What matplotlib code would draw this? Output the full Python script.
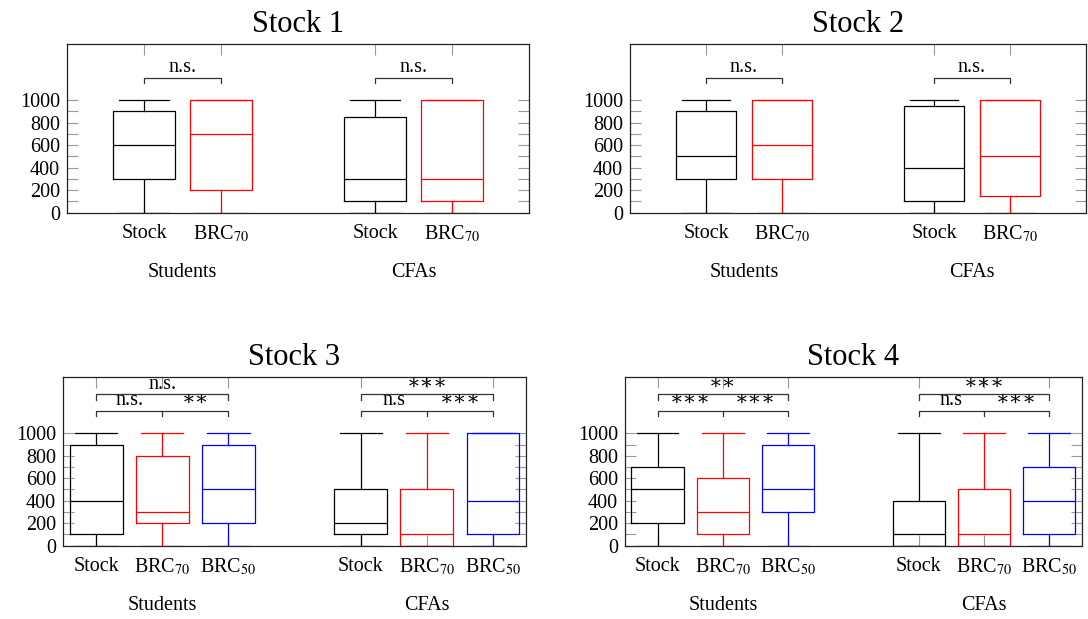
import matplotlib
matplotlib.use('Agg')
import matplotlib.pyplot as plt

plt.rcParams['font.family'] = ['Liberation Serif', 'DejaVu Serif']
plt.rcParams['mathtext.fontset'] = 'stix'

# each box: (whislo, q1, median, q3, whishi)
stock1_students = [(0, 300, 600, 900, 1000), (0, 200, 700, 1000, 1000)]
stock1_cfas = [(0, 100, 300, 850, 1000), (0, 100, 300, 1000, 1000)]
stock2_students = [(0, 300, 500, 900, 1000), (0, 300, 600, 1000, 1000)]
stock2_cfas = [(0, 100, 400, 950, 1000), (0, 150, 500, 1000, 1000)]
stock3_students = [(0, 100, 400, 900, 1000), (0, 200, 300, 800, 1000), (0, 200, 500, 900, 1000)]
stock3_cfas = [(0, 100, 200, 500, 1000), (0, 0, 100, 500, 1000), (0, 100, 400, 1000, 1000)]
stock4_students = [(0, 200, 500, 700, 1000), (0, 100, 300, 600, 1000), (0, 300, 500, 900, 1000)]
stock4_cfas = [(0, 0, 100, 400, 1000), (0, 0, 100, 500, 1000), (0, 100, 400, 700, 1000)]

labels2 = ['Stock', 'BRC$_{70}$']
labels3 = ['Stock', 'BRC$_{70}$', 'BRC$_{50}$']
groups = ['Students', 'CFAs']
titles = ['Stock 1', 'Stock 2', 'Stock 3', 'Stock 4']

# significance: 2 boxes -> [a-b]; 3 boxes -> [a-b, b-c, a-c]
sig1 = [['n.s.'], ['n.s.']]
sig2 = [['n.s.'], ['n.s.']]
sig3 = [['n.s.', '∗∗', 'n.s.'], ['n.s', '∗∗∗', '∗∗∗']]
sig4 = [['∗∗∗', '∗∗∗', '∗∗'], ['n.s', '∗∗∗', '∗∗∗']]

box_colors = ['black', 'red', 'blue']
keys = ['whislo', 'q1', 'med', 'q3', 'whishi']
FS = 14.5
TICKC = '#999999'
BRC = '#333333'


def draw_panel(ax, title, data, labels, sig, xlim):
    n = len(labels)
    ticks, ticklabels = [], []
    for g, group in enumerate(data):
        start = 1 + g * (n + 1)
        for i, s in enumerate(group):
            p = start + i
            st = dict(zip(keys, s))
            c = box_colors[i]
            ax.bxp([st], positions=[p], widths=0.8, capwidths=0.64, showfliers=False,
                   boxprops=dict(color=c, lw=0.9), whiskerprops=dict(color=c, lw=0.9),
                   capprops=dict(color=c, lw=0.9), medianprops=dict(color=c, lw=0.9),
                   manage_ticks=False)
            ticks.append(p)
            ticklabels.append(labels[i])
        mid = start + (n - 1) / 2
        ax.annotate(groups[g], xy=(mid, 0), xycoords=('data', 'axes fraction'),
                    xytext=(0, -46), textcoords='offset points',
                    ha='center', va='baseline', fontsize=FS)
        # brackets
        a, b = start, start + 1
        kw = dict(color=BRC, lw=0.9, clip_on=False)
        if n == 2:
            ax.plot([a, a, b, b], [1150, 1200, 1200, 1150], **kw)
            ax.text((a + b) / 2, 1255, sig[g][0], ha='center', va='baseline', fontsize=FS)
        else:
            c3 = start + 2
            ax.plot([a, a, c3, c3], [1150, 1200, 1200, 1150], **kw)
            ax.plot([b, b], [1150, 1200], **kw)
            ax.plot([a, a, c3, c3], [1300, 1350, 1350, 1300], **kw)
            ax.text((a + b) / 2, 1248, sig[g][0], ha='center', va='baseline', fontsize=FS)
            ax.text((b + c3) / 2, 1248, sig[g][1], ha='center', va='baseline', fontsize=FS)
            ax.text(b, 1397, sig[g][2], ha='center', va='baseline', fontsize=FS)

    ax.set_xlim(*xlim)
    ax.set_ylim(0, 1500)
    ax.set_xticks(ticks)
    ax.set_xticklabels(ticklabels)
    ax.set_yticks(range(0, 1001, 200))
    ax.set_yticks(range(100, 1000, 200), minor=True)
    ax.tick_params(which='both', direction='in', length=8, width=0.8, color=TICKC,
                   top=True, right=True, labelsize=FS, pad=5)
    ax.tick_params(axis='x', pad=8)
    for sp in ax.spines.values():
        sp.set_color('#222222')
        sp.set_linewidth(0.9)
    ax.set_title(title, fontsize=22, pad=9)


fig = plt.figure(figsize=(10.88, 6.19), dpi=100)
ax1 = fig.add_axes([0.0616, 0.6564, 0.4246, 0.2725])
ax2 = fig.add_axes([0.5790, 0.6564, 0.4191, 0.2725])
ax3 = fig.add_axes([0.0579, 0.1184, 0.4256, 0.2725])
ax4 = fig.add_axes([0.5744, 0.1184, 0.4200, 0.2725])

draw_panel(ax1, titles[0], [stock1_students, stock1_cfas], labels2, sig1, (0, 6))
draw_panel(ax2, titles[1], [stock2_students, stock2_cfas], labels2, sig2, (0, 6))
draw_panel(ax3, titles[2], [stock3_students, stock3_cfas], labels3, sig3, (0.5, 7.5))
draw_panel(ax4, titles[3], [stock4_students, stock4_cfas], labels3, sig4, (0.5, 7.5))

plt.savefig('out.png', dpi=100)
